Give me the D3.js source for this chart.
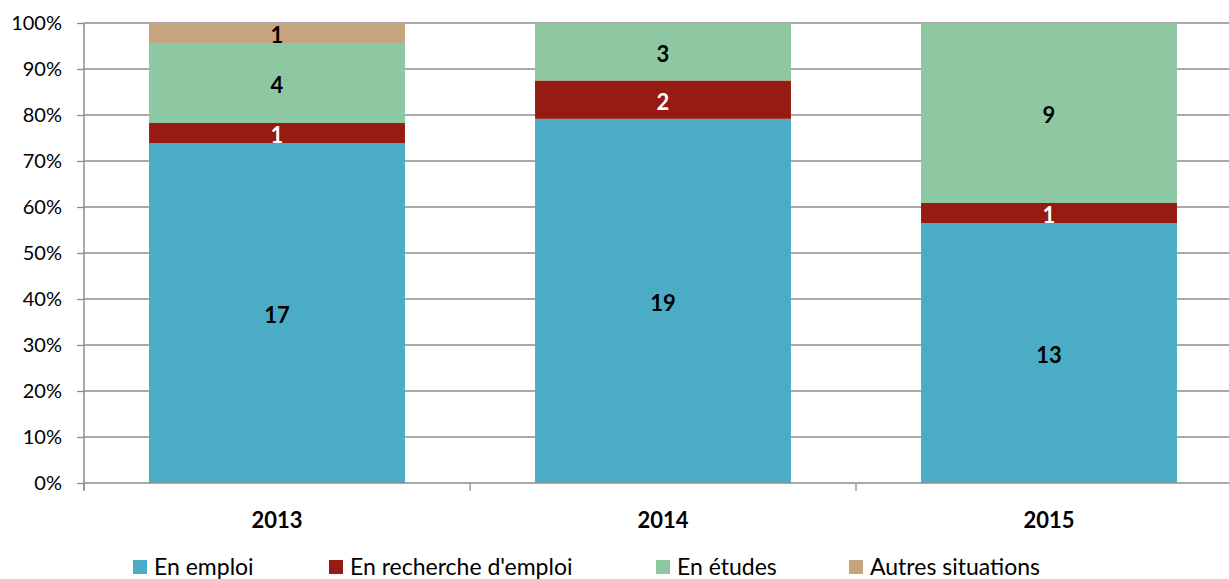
<!DOCTYPE html>
<html>
<head>
<meta charset="utf-8">
<script src="https://cdn.jsdelivr.net/npm/d3@7"></script>
<style>
  body { margin: 0; background: #fff; }
  svg { display: block; font-family: Lato, "Open Sans", sans-serif; }
</style>
</head>
<body>
<script>
const years = ["2013", "2014", "2015"];
const seriesNames = ["En emploi", "En recherche d'emploi", "En études", "Autres situations"];
const enEmploi = [17, 19, 13];
const enRecherche = [1, 2, 1];
const enEtudes = [4, 3, 9];
const autres = [1, 0, 0];
const yTicks = [0, 0.1, 0.2, 0.3, 0.4, 0.5, 0.6, 0.7, 0.8, 0.9, 1];

const colors = ["#4BACC6", "#951B13", "#8DC8A3", "#C6A47E"];
const labelColors = ["#000", "#fff", "#000", "#000"];

const width = 1229, height = 579;
const plotLeft = 84, plotTop = 23, plotBottom = 483;
const bandW = 386;

const rows = years.map((yr, i) => ({
    year: yr,
    "En emploi": enEmploi[i],
    "En recherche d'emploi": enRecherche[i],
    "En études": enEtudes[i],
    "Autres situations": autres[i]
}));

const stacked = d3.stack().keys(seriesNames).offset(d3.stackOffsetExpand)(rows);

const svg = d3.select("body").append("svg")
    .attr("width", width)
    .attr("height", height);

const x = d3.scaleBand()
    .domain(years)
    .range([plotLeft, plotLeft + bandW * years.length])
    .paddingInner(0.337)
    .paddingOuter(0.337 / 2);

const y = d3.scaleLinear().domain([0, 1]).range([plotBottom, plotTop]);

// gridlines
svg.append("g")
    .selectAll("line")
    .data(yTicks.slice(1))
    .join("line")
    .attr("x1", plotLeft)
    .attr("x2", width)
    .attr("y1", d => y(d))
    .attr("y2", d => y(d))
    .attr("stroke", "#8c8c8c")
    .attr("stroke-width", 1.3);

// bars
stacked.forEach((layer, k) => {
    const g = svg.append("g");
    g.selectAll("rect")
        .data(layer)
        .join("rect")
        .attr("x", d => x(d.data.year))
        .attr("width", x.bandwidth())
        .attr("y", d => y(d[1]))
        .attr("height", d => y(d[0]) - y(d[1]))
        .attr("fill", colors[k]);

    g.selectAll("text")
        .data(layer.filter(d => d.data[layer.key] > 0))
        .join("text")
        .attr("x", d => x(d.data.year) + x.bandwidth() / 2)
        .attr("y", d => (y(d[0]) + y(d[1])) / 2)
        .attr("dy", "0.47em")
        .attr("text-anchor", "middle")
        .attr("font-size", "22px")
        .attr("font-weight", "bold")
        .attr("fill", labelColors[k])
        .text(d => d.data[layer.key]);
});

// y axis
const yAxis = svg.append("g")
    .attr("transform", `translate(${plotLeft},0)`)
    .call(d3.axisLeft(y).tickValues(yTicks).tickFormat(d3.format(".0%")).tickSize(7).tickPadding(15));
yAxis.select(".domain").attr("stroke", "#8c8c8c").attr("stroke-width", 1.5).attr("d", `M0,${plotTop}V${plotBottom + 7}`);
yAxis.selectAll(".tick line").attr("stroke", "#8c8c8c").attr("stroke-width", 1.3);
yAxis.selectAll(".tick text").attr("font-size", "20px").attr("fill", "#000").attr("font-family", "Lato, sans-serif");

// x axis
const xAxis = svg.append("g")
    .attr("transform", `translate(0,${plotBottom})`);
xAxis.append("line")
    .attr("x1", plotLeft).attr("x2", width)
    .attr("stroke", "#8c8c8c").attr("stroke-width", 1.5);
xAxis.selectAll(".sep")
    .data(years)
    .join("line")
    .attr("class", "sep")
    .attr("x1", (d, i) => plotLeft + bandW * i)
    .attr("x2", (d, i) => plotLeft + bandW * i)
    .attr("y1", 0).attr("y2", 8)
    .attr("stroke", "#8c8c8c").attr("stroke-width", 1.3);
xAxis.selectAll("text")
    .data(years)
    .join("text")
    .attr("x", d => x(d) + x.bandwidth() / 2)
    .attr("y", 45)
    .attr("text-anchor", "middle")
    .attr("font-size", "22px")
    .attr("font-weight", "bold")
    .text(d => d);

// legend
const legendX = [133, 329, 656, 849];
const legend = svg.append("g").attr("transform", "translate(0,560)");
seriesNames.forEach((name, i) => {
    legend.append("rect")
        .attr("x", legendX[i]).attr("y", 0)
        .attr("width", 14).attr("height", 14)
        .attr("fill", colors[i]);
    legend.append("text")
        .attr("x", legendX[i] + 21).attr("y", 7)
        .attr("dy", "0.36em")
        .attr("font-size", "23px")
        .text(name);
});
</script>
</body>
</html>
